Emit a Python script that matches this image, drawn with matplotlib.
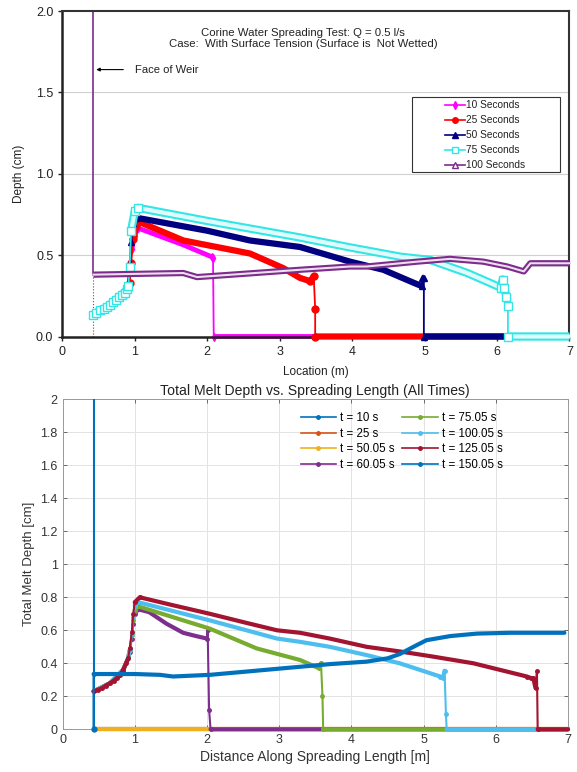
import numpy as np
import matplotlib.pyplot as plt
from matplotlib.patches import Rectangle

plt.rcParams['font.family'] = ['Liberation Sans', 'DejaVu Sans']

# ---- top chart: Corine water spreading test ----
weir_x = 0.43
weir_top = 2.0
weir_base = 0.38

t10_x = [0.43, 0.55, 0.70, 0.85, 0.90, 0.93, 0.96, 1.00, 1.04, 1.67, 2.06, 2.08, 2.09, 7.0]
t10_y = [0.13, 0.16, 0.21, 0.26, 0.30, 0.40, 0.54, 0.62, 0.667, 0.563, 0.49, 0.48, 0.0, 0.0]

t25_x = [0.43, 0.55, 0.70, 0.85, 0.90, 0.93, 0.95, 0.98, 1.02, 1.05, 1.67, 2.13, 2.59, 3.05, 3.28, 3.42, 3.47, 3.49, 3.49, 7.0]
t25_y = [0.13, 0.16, 0.21, 0.26, 0.30, 0.33, 0.45, 0.60, 0.68, 0.706, 0.59, 0.55, 0.51, 0.42, 0.36, 0.34, 0.37, 0.17, 0.0, 0.0]

t50_x = [0.43, 0.55, 0.70, 0.85, 0.90, 0.93, 0.95, 0.98, 1.02, 2.0, 2.59, 3.28, 3.97, 4.43, 4.85, 4.96, 4.97, 4.99, 4.99, 7.0]
t50_y = [0.13, 0.16, 0.21, 0.26, 0.30, 0.45, 0.58, 0.70, 0.73, 0.65, 0.59, 0.55, 0.46, 0.41, 0.33, 0.31, 0.36, 0.36, 0.0, 0.0]

t75_x = [0.43, 0.47, 0.52, 0.57, 0.62, 0.66, 0.70, 0.74, 0.78, 0.82, 0.86, 0.89, 0.91, 0.93, 0.95, 1.00, 1.05, 2.0, 3.26, 3.94, 4.67, 5.08, 5.59, 5.95, 6.05, 6.08, 6.10, 6.13, 6.15, 6.15, 7.0]
t75_y = [0.13, 0.145, 0.16, 0.17, 0.18, 0.195, 0.21, 0.225, 0.24, 0.255, 0.27, 0.29, 0.31, 0.43, 0.65, 0.77, 0.79, 0.71, 0.61, 0.55, 0.49, 0.47, 0.39, 0.32, 0.30, 0.35, 0.30, 0.245, 0.19, 0.0, 0.0]

t100_x = [0.43, 1.67, 1.86, 2.5, 3.28, 3.97, 4.2, 4.9, 5.35, 5.81, 6.14, 6.37, 6.46, 7.0]
t100_y = [0.38, 0.39, 0.365, 0.385, 0.41, 0.43, 0.43, 0.46, 0.477, 0.46, 0.43, 0.40, 0.45, 0.45]

top_labels = ['10 Seconds', '25 Seconds', '50 Seconds', '75 Seconds', '100 Seconds']
top_colors = ['#ff00ff', '#ff0000', '#000080', '#33e6e6', '#7d2c8c']

# ---- bottom chart: total melt depth ----
m10_x = [0.43, 0.43]
m10_y = [0.0, 2.5]
m25_x = [0.43, 7.0]
m25_y = [0.0, 0.0]
m50_x = [0.43, 7.0]
m50_y = [0.0, 0.0]

m60_x = [0.43, 0.66, 0.84, 0.91, 0.93, 0.96, 0.98, 1.0, 1.05, 1.2, 1.44, 1.67, 1.85, 2.0, 2.01, 2.03, 2.05, 7.0]
m60_y = [0.23, 0.28, 0.36, 0.43, 0.47, 0.55, 0.64, 0.70, 0.727, 0.71, 0.64, 0.585, 0.565, 0.55, 0.60, 0.12, 0.0, 0.0]

m75_x = [0.43, 0.66, 0.84, 0.91, 0.93, 0.96, 0.98, 1.0, 1.05, 2.04, 2.69, 3.29, 3.55, 3.58, 3.60, 3.61, 7.0]
m75_y = [0.23, 0.28, 0.36, 0.43, 0.48, 0.57, 0.66, 0.72, 0.745, 0.61, 0.49, 0.42, 0.37, 0.40, 0.20, 0.0, 0.0]

m100_x = [0.43, 0.66, 0.84, 0.91, 0.93, 0.96, 0.98, 1.0, 1.05, 2.04, 2.97, 3.29, 3.7, 4.21, 4.67, 5.23, 5.27, 5.29, 5.31, 5.32, 7.0]
m100_y = [0.23, 0.28, 0.36, 0.43, 0.48, 0.58, 0.68, 0.75, 0.77, 0.66, 0.55, 0.53, 0.50, 0.45, 0.40, 0.32, 0.31, 0.355, 0.09, 0.0, 0.0]

m125_x = [0.43, 0.49, 0.55, 0.60, 0.66, 0.71, 0.75, 0.80, 0.84, 0.88, 0.91, 0.93, 0.96, 0.98, 1.0, 1.07, 1.5, 2.04, 2.5, 2.97, 3.29, 3.7, 4.21, 4.7, 5.14, 5.69, 6.06, 6.43, 6.49, 6.52, 6.55, 6.57, 6.58, 7.0]
m125_y = [0.23, 0.24, 0.25, 0.265, 0.28, 0.295, 0.31, 0.33, 0.36, 0.40, 0.43, 0.49, 0.59, 0.70, 0.77, 0.80, 0.755, 0.70, 0.65, 0.60, 0.585, 0.55, 0.50, 0.47, 0.44, 0.40, 0.36, 0.32, 0.31, 0.31, 0.25, 0.355, 0.0, 0.0]

m150_x = [0.43, 0.43, 1.0, 1.35, 1.53, 2.04, 3.06, 3.7, 4.21, 4.5, 4.67, 4.86, 5.04, 5.37, 5.74, 6.2, 6.95]
m150_y = [0.0, 0.335, 0.335, 0.33, 0.32, 0.33, 0.37, 0.395, 0.41, 0.43, 0.456, 0.50, 0.54, 0.565, 0.58, 0.585, 0.585]

bot_labels = ['t = 10 s', 't = 25 s', 't = 50.05 s', 't = 60.05 s',
              't = 75.05 s', 't = 100.05 s', 't = 125.05 s', 't = 150.05 s']
bot_colors = ['#0072BD', '#D95319', '#EDB120', '#7E2F8E',
              '#77AC30', '#4DBEEE', '#A2142F', '#0072BD']


def close_pts(x, gap=0.08):
    # markers only where samples sit close together (ramps, drops)
    x = np.asarray(x)
    m = np.zeros(len(x), dtype=bool)
    d = np.abs(np.diff(x)) < gap
    m[:-1] |= d
    m[1:] |= d
    return list(m)


def gentle(x, y, max_slope=2.5):
    # copy of the series with steep segments cut out (for the thick marker band)
    xs, ys = [x[0]], [y[0]]
    for i in range(1, len(x)):
        dx = abs(x[i] - x[i-1])
        dy = abs(y[i] - y[i-1])
        if dy > max_slope * dx + 1e-9:
            xs.append(np.nan)
            ys.append(np.nan)
        xs.append(x[i])
        ys.append(y[i])
    return xs, ys


fig = plt.figure(figsize=(5.77, 7.72), dpi=100)
W, H = 577.0, 772.0

# top axes
ax1 = fig.add_axes([62.3/W, 1-336.5/H, (569.5-62.3)/W, (336.5-11)/H])
for yy in [0.5, 1.0, 1.5]:
    ax1.axhline(yy, color='#d0d0d0', lw=0.8, zorder=0)

ax1.plot([weir_x, weir_x], [weir_base, weir_top], color='#7d2c8c', lw=1.2, zorder=1)
ax1.plot([weir_x, weir_x], [0, weir_base], color='#555555', lw=0.8, ls=':', zorder=1)

top_x = [t10_x, t25_x, t50_x, t75_x, t100_x]
top_y = [t10_y, t25_y, t50_y, t75_y, t100_y]
top_mk = ['d', 'o', '^', 's', '^']
top_ms = [4, 5, 5, 5.5, 5]
top_lw = [3.5, 4.5, 4.5, 6.0, 4.5]
for i in range(5):
    c = top_colors[i]
    mask = close_pts(top_x[i])
    gx, gy = gentle(top_x[i], top_y[i])
    ax1.plot(top_x[i], top_y[i], color=c, lw=1.3, zorder=2+i, clip_on=False)
    ax1.plot(gx, gy, color=c, lw=top_lw[i], solid_capstyle='butt', zorder=2+i, clip_on=False)
    if i >= 3:
        ax1.plot(gx, gy, color='white', lw=top_lw[i]-3.0, alpha=0.85, zorder=2+i, clip_on=False)
        ax1.plot(top_x[i], top_y[i], ls='none', marker=top_mk[i], ms=top_ms[i], mfc='white',
                 mec=c, mew=1.0, markevery=mask, zorder=2+i, clip_on=False)
    else:
        ax1.plot(top_x[i], top_y[i], ls='none', marker=top_mk[i], ms=top_ms[i], color=c,
                 markevery=mask, zorder=2+i, clip_on=False)

handles = []
for i in range(5):
    c = top_colors[i]
    if i >= 3:
        h, = ax1.plot([], [], color=c, lw=1.2, marker=top_mk[i], ms=4, mfc='white', mec=c)
    else:
        h, = ax1.plot([], [], color=c, lw=1.2, marker=top_mk[i], ms=4)
    handles.append(h)

ax1.add_patch(Rectangle((0.69, 0.505), 0.292, 0.231, transform=ax1.transAxes,
                        facecolor='white', edgecolor='#333333', lw=0.8, zorder=20))
leg1 = ax1.legend(handles, top_labels, loc='center', bbox_to_anchor=(0.833, 0.618),
                  fontsize=7.3, frameon=False, handlelength=2.0, handletextpad=0.1,
                  labelspacing=0.5, borderpad=0.2, borderaxespad=0)
leg1.set_zorder(21)
for t in leg1.get_texts():
    t.set_color('#222222')

ax1.text(3.32, 1.83, 'Corine Water Spreading Test: Q = 0.5 l/s\nCase:  With Surface Tension (Surface is  Not Wetted)',
         ha='center', va='center', fontsize=8.2, color='#222222', linespacing=1.15)
ax1.annotate('', xy=(weir_x, 1.64), xytext=(0.88, 1.64),
             arrowprops=dict(arrowstyle='-|>', color='black', lw=0.8, mutation_scale=5))
ax1.text(1.0, 1.64, 'Face of Weir', ha='left', va='center', fontsize=8.1, color='#222222')

ax1.set_xlim(0, 7)
ax1.set_ylim(0, 2)
ax1.set_xticks(range(8))
ax1.set_yticks([0, 0.5, 1.0, 1.5, 2.0])
ax1.set_yticklabels(['0.0', '0.5', '1.0', '1.5', '2.0'])
ax1.tick_params(labelsize=9, length=3, width=1, colors='#222222', direction='out')
ax1.set_xlabel('Location (m)', fontsize=8.5, color='#222222', labelpad=6)
ax1.set_ylabel('Depth (cm)', fontsize=8.5, color='#222222', labelpad=8)
for s in ['left', 'bottom']:
    ax1.spines[s].set_linewidth(1.8)
    ax1.spines[s].set_color('#222222')
for s in ['top', 'right']:
    ax1.spines[s].set_linewidth(1.5)
    ax1.spines[s].set_color('#333333')

# bottom axes
ax2 = fig.add_axes([62.5/W, 1-729.3/H, (568-62.5)/W, (729.3-399.3)/H])
bot_x = [m10_x, m25_x, m50_x, m60_x, m75_x, m100_x, m125_x, m150_x]
bot_y = [m10_y, m25_y, m50_y, m60_y, m75_y, m100_y, m125_y, m150_y]
for i in range(8):
    c = bot_colors[i]
    clip = (i == 0)
    gx, gy = gentle(bot_x[i], bot_y[i])
    ax2.plot(bot_x[i], bot_y[i], color=c, lw=1.5, zorder=3+i, clip_on=clip)
    ax2.plot(gx, gy, color=c, lw=3, solid_capstyle='round', zorder=3+i, clip_on=clip)
    ax2.plot(bot_x[i], bot_y[i], ls='none', color=c, marker='.', ms=5,
             markevery=close_pts(bot_x[i]), zorder=3+i, clip_on=clip)
ax2.plot(m10_x[:1], m10_y[:1], ls='none', marker='.', ms=7, color=bot_colors[0], zorder=12,
         clip_on=False)

leg_h = []
for i in range(8):
    h, = ax2.plot([], [], color=bot_colors[i], lw=1.2, marker='.', ms=5)
    leg_h.append(h)
ax2.legend(leg_h, bot_labels, ncol=2, loc='upper left', bbox_to_anchor=(0.455, 0.985),
           frameon=False, fontsize=8.3, handlelength=3.1, handletextpad=0.3,
           columnspacing=0.7, labelspacing=0.3, borderpad=0.2)

ax2.set_xlim(0, 7)
ax2.set_ylim(0, 2)
ax2.set_xticks(range(8))
ax2.set_yticks(np.arange(0, 2.01, 0.2))
ax2.set_yticklabels(['0', '0.2', '0.4', '0.6', '0.8', '1', '1.2', '1.4', '1.6', '1.8', '2'])
ax2.grid(True, color='#e3e3e3', lw=0.7)
ax2.set_axisbelow(True)
ax2.tick_params(direction='in', top=True, right=True, length=3, width=0.6,
                colors='#555555', labelcolor='#333333', labelsize=9)
for s in ax2.spines.values():
    s.set_color('#999999')
    s.set_linewidth(0.7)
ax2.set_title('Total Melt Depth vs. Spreading Length (All Times)', fontsize=10.1,
              color='#222222', pad=3)
ax2.set_xlabel('Distance Along Spreading Length [m]', fontsize=10, color='#333333', labelpad=3)
ax2.set_ylabel('Total Melt Depth [cm]', fontsize=9.5, color='#333333', labelpad=4)

fig.savefig('out.png', dpi=100)
